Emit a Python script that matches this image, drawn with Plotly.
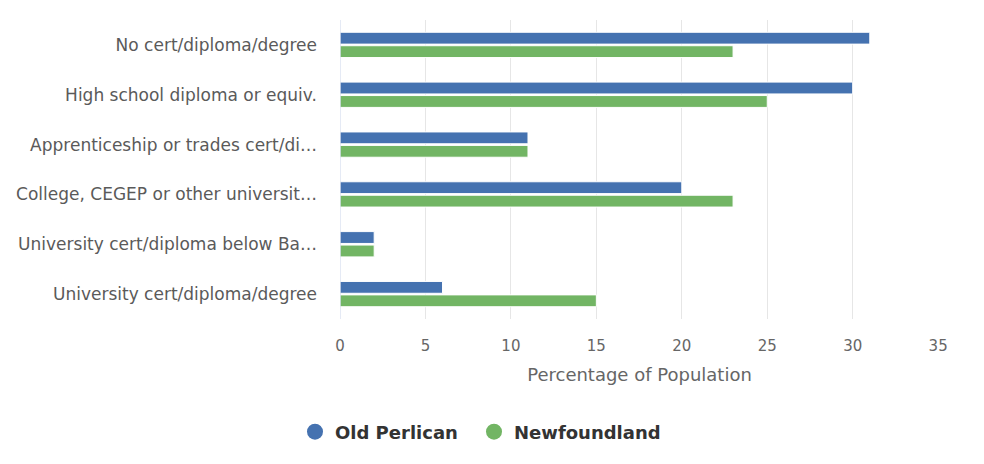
import plotly.graph_objects as go

categories = [
    "No cert/diploma/degree",
    "High school diploma or equiv.",
    "Apprenticeship or trades cert/di…",
    "College, CEGEP or other universit…",
    "University cert/diploma below Ba…",
    "University cert/diploma/degree",
]
old_perlican = [31, 30, 11, 20, 2, 6]
newfoundland = [23, 25, 11, 23, 2, 15]
series_names = ["Old Perlican", "Newfoundland"]
colors = ["#4572b0", "#72b564"]
x_ticks = [0, 5, 10, 15, 20, 25, 30, 35]

FONT = "DejaVu Sans"
W, H = 968, 448

fig = go.Figure()
for name, vals, col in zip(series_names, [old_perlican, newfoundland], colors):
    fig.add_trace(go.Bar(
        y=categories, x=vals, name=name, orientation="h",
        marker=dict(color=col, line=dict(color="white", width=1)),
        showlegend=False,
    ))
# legend entries with circular symbols, one legend per entry for spacing
legend_ids = ["legend", "legend2"]
for name, col, lg in zip(series_names, colors, legend_ids):
    fig.add_trace(go.Scatter(
        x=[None], y=[None], mode="markers", name=name, legend=lg,
        marker=dict(color=col, size=19, symbol="circle"),
    ))

legend_common = dict(
    orientation="h", xref="container", yref="container",
    xanchor="left", y=1 - 424 / H, yanchor="middle",
    font=dict(size=18, color="#333333", family=FONT, weight="bold"),
    bgcolor="rgba(0,0,0,0)",
)

fig.update_layout(
    width=W, height=H,
    paper_bgcolor="white", plot_bgcolor="white",
    margin=dict(l=332, r=37, t=12, b=137),
    barmode="group", bargap=0.46, bargroupgap=0.12,
    font=dict(family=FONT, color="#666666"),
    xaxis=dict(
        range=[0, 35.05], tickvals=x_ticks, showgrid=True,
        gridcolor="#e6e6e6", gridwidth=1, zeroline=False,
        tickfont=dict(size=15, color="#666666"),
        ticklabelstandoff=16, automargin=False,
        title=dict(text="Percentage of Population", font=dict(size=18, color="#666666"), standoff=14),
    ),
    yaxis=dict(
        autorange="reversed", showgrid=False, zeroline=False,
        showline=False, automargin=False,
        tickfont=dict(size=17, color="#5a5a5a"),
        ticklabelstandoff=22,
    ),
    legend=dict(x=287 / W, **legend_common),
    legend2=dict(x=466 / W, **legend_common),
    shapes=[dict(type="line", xref="x", yref="paper", x0=0, x1=0, y0=0, y1=1,
                 line=dict(color="#ccd6eb", width=1))],
)
fig.write_html("out.html")
